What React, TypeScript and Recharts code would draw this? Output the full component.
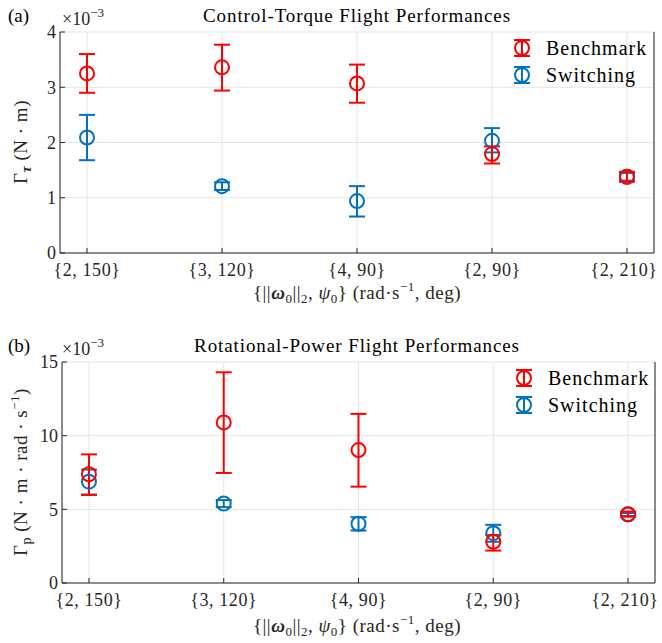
import React from "react";
import { ScatterChart, Scatter, XAxis, YAxis, CartesianGrid, ErrorBar } from "recharts";

// flight cases {||w0||_2, psi0}
const categories = ["{2, 150}", "{3, 120}", "{4, 90}", "{2, 90}", "{2, 210}"];
const caseIndex = [1, 2, 3, 4, 5];

// (a) control torque, in units of 1e-3 N·m
const torqueBenchMean = [3.25, 3.36, 3.07, 1.79, 1.38];
const torqueBenchLow = [2.9, 2.94, 2.72, 1.62, 1.29];
const torqueBenchHigh = [3.6, 3.77, 3.41, 1.93, 1.47];
const torqueSwitchMean = [2.09, 1.21, 0.94, 2.03, 1.38];
const torqueSwitchLow = [1.68, 1.14, 0.66, 1.82, 1.31];
const torqueSwitchHigh = [2.5, 1.28, 1.21, 2.26, 1.45];
const torqueTicks = [0, 1, 2, 3, 4];

// (b) rotational power, in units of 1e-3
const powerBenchMean = [7.38, 10.9, 9.02, 2.8, 4.67];
const powerBenchLow = [5.98, 7.47, 6.54, 2.2, 4.5];
const powerBenchHigh = [8.73, 14.3, 11.48, 3.25, 4.85];
const powerSwitchMean = [6.88, 5.39, 4.02, 3.38, 4.65];
const powerSwitchLow = [6.0, 5.15, 3.56, 2.8, 4.55];
const powerSwitchHigh = [7.7, 5.63, 4.47, 3.95, 4.75];
const powerTicks = [0, 5, 10, 15];

const RED = "#ff0000";
const BLUE = "#0072bd";
const AXIS = "#262626";
const GRID = "#e5e5e5";
const FONT = "'Liberation Serif', 'Times New Roman', serif";

function toRows(mean: number[], low: number[], high: number[]) {
  return caseIndex.map((x, i) => ({ x, y: mean[i], err: [mean[i] - low[i], high[i] - mean[i]] }));
}

const ring = (color: string) => (props: any) => (
  <circle cx={props.cx} cy={props.cy} r={7} fill="none" stroke={color} strokeWidth={2} />
);

// last label is nudged left a bit so it stays inside the figure
const CaseTick = (props: any) => {
  const { x, y, payload, index } = props;
  const last = index === caseIndex.length - 1;
  return (
    <text
      x={x}
      y={y}
      dx={last ? -3 : 0}
      dy={12}
      textAnchor="middle"
      fill={AXIS}
      fontSize={18}
      fontFamily={FONT}
      letterSpacing={0.6}
    >
      {categories[payload.value - 1]}
    </text>
  );
};

function Panel(props: {
  top: number;
  height: number;
  plotTop: number;
  plotBottom: number;
  leftW: number;
  rightW: number;
  yDomain: [number, number];
  yTicks: number[];
  bench: any[];
  sw: any[];
}) {
  const { top, height, plotTop, plotBottom, leftW, rightW, yDomain, yTicks, bench, sw } = props;
  const xAxisH = 30;
  return (
    <div style={{ position: "absolute", left: 0, top, width: 662, height }}>
      <ScatterChart
        width={662}
        height={height}
        margin={{ top: plotTop, right: 0, bottom: height - plotBottom - xAxisH, left: 0 }}
      >
        <CartesianGrid stroke={GRID} strokeWidth={1} />
        <XAxis
          type="number"
          dataKey="x"
          domain={[0.8, 5.2]}
          ticks={caseIndex}
          interval={0}
          height={xAxisH}
          tickSize={-5}
          tickMargin={16}
          stroke={AXIS}
          tick={<CaseTick />}
        />
        <XAxis
          xAxisId="top"
          orientation="top"
          type="number"
          domain={[0.8, 5.2]}
          ticks={caseIndex}
          interval={0}
          tickFormatter={() => ""}
          height={0}
          tickSize={-5}
          stroke={AXIS}
        />
        <YAxis
          type="number"
          dataKey="y"
          domain={yDomain}
          ticks={yTicks}
          interval={0}
          width={leftW}
          tickSize={-5}
          tickMargin={9}
          stroke={AXIS}
          tick={{ fill: AXIS, fontSize: 18, fontFamily: FONT }}
        />
        <YAxis
          yAxisId="r"
          orientation="right"
          type="number"
          domain={yDomain}
          ticks={yTicks}
          interval={0}
          width={rightW}
          tickSize={-5}
          tickFormatter={() => ""}
          stroke={AXIS}
        />
        <Scatter data={sw} fill={BLUE} shape={ring(BLUE)} isAnimationActive={false}>
          <ErrorBar dataKey="err" direction="y" width={8} stroke={BLUE} strokeWidth={2} />
        </Scatter>
        <Scatter data={bench} fill={RED} shape={ring(RED)} isAnimationActive={false}>
          <ErrorBar dataKey="err" direction="y" width={8} stroke={RED} strokeWidth={2} />
        </Scatter>
      </ScatterChart>
    </div>
  );
}

function LegendMark({ x, y, color }: { x: number; y: number; color: string }) {
  return (
    <g stroke={color} strokeWidth={2} fill="none">
      <line x1={x} y1={y - 8} x2={x} y2={y + 8} />
      <line x1={x - 8} y1={y - 8} x2={x + 8} y2={y - 8} />
      <line x1={x - 8} y1={y + 8} x2={x + 8} y2={y + 8} />
      <circle cx={x} cy={y} r={7} />
    </g>
  );
}

function Legend2({ x, y }: { x: number; y: number }) {
  return (
    <g>
      <LegendMark x={x} y={y} color={RED} />
      <LegendMark x={x} y={y + 27} color={BLUE} />
      <text x={x + 24} y={y + 7} fontSize={20} letterSpacing={1} fill="#000">Benchmark</text>
      <text x={x + 24} y={y + 34} fontSize={20} letterSpacing={1} fill="#000">Switching</text>
    </g>
  );
}

function Scale({ x, y }: { x: number; y: number }) {
  return (
    <text x={x} y={y} fontSize={18} fill={AXIS}>
      ×10<tspan fontSize={13} dy={-8}>−3</tspan>
    </text>
  );
}

function XLabel({ y }: { y: number }) {
  return (
    <text x={357} y={y} fontSize={19} textAnchor="middle" fill={AXIS} letterSpacing={0.5}>
      {"{||"}
      <tspan fontWeight="bold" fontStyle="italic">ω</tspan>
      <tspan fontSize={13} dy={4}>0</tspan>
      <tspan dy={-4}>||</tspan>
      <tspan fontSize={13} dy={4}>2</tspan>
      <tspan dy={-4}>, </tspan>
      <tspan fontStyle="italic">ψ</tspan>
      <tspan fontSize={13} dy={4}>0</tspan>
      <tspan dy={-4}>{"}  (rad·s"}</tspan>
      <tspan fontSize={13} dy={-8}>−1</tspan>
      <tspan dy={8}>, deg)</tspan>
    </text>
  );
}

export default function App() {
  return (
    <div style={{ position: "absolute", left: 0, top: 0, width: 662, height: 643, background: "#fff", fontFamily: FONT }}>
      <Panel
        top={0}
        height={300}
        plotTop={32}
        plotBottom={253}
        leftW={60}
        rightW={8}
        yDomain={[0, 4]}
        yTicks={torqueTicks}
        bench={toRows(torqueBenchMean, torqueBenchLow, torqueBenchHigh)}
        sw={toRows(torqueSwitchMean, torqueSwitchLow, torqueSwitchHigh)}
      />
      <Panel
        top={300}
        height={343}
        plotTop={62}
        plotBottom={283}
        leftW={62}
        rightW={7}
        yDomain={[0, 15]}
        yTicks={powerTicks}
        bench={toRows(powerBenchMean, powerBenchLow, powerBenchHigh)}
        sw={toRows(powerSwitchMean, powerSwitchLow, powerSwitchHigh)}
      />
      <svg
        width={662}
        height={643}
        style={{ position: "absolute", left: 0, top: 0, pointerEvents: "none" }}
        fontFamily={FONT}
      >
        {/* (a) */}
        <text x={8} y={22} fontSize={19} fill="#000">(a)</text>
        <Scale x={62} y={25} />
        <text x={357} y={22} fontSize={19} textAnchor="middle" letterSpacing={0.9} fill="#000">
          Control-Torque Flight Performances
        </text>
        <text transform="translate(27,142) rotate(-90)" fontSize={19} textAnchor="middle" fill={AXIS} letterSpacing={0.5}>
          Γ<tspan fontSize={14} dy={4} fontWeight="bold" fontStyle="italic">τ</tspan>
          <tspan dy={-4}>{"  (N · m)"}</tspan>
        </text>
        <XLabel y={299} />
        <Legend2 x={522} y={48} />

        {/* (b) */}
        <text x={8} y={352} fontSize={19} fill="#000">(b)</text>
        <Scale x={62} y={355} />
        <text x={357} y={352} fontSize={19} textAnchor="middle" letterSpacing={0.9} fill="#000">
          Rotational-Power Flight Performances
        </text>
        <text transform="translate(27,472) rotate(-90)" fontSize={19} textAnchor="middle" fill={AXIS} letterSpacing={0.5}>
          Γ<tspan fontSize={14} dy={4}>p</tspan>
          <tspan dy={-4}>{" (N · m · rad · s"}</tspan>
          <tspan fontSize={13} dy={-8}>−1</tspan>
          <tspan dy={8}>)</tspan>
        </text>
        <XLabel y={632} />
        <Legend2 x={524} y={378} />
      </svg>
    </div>
  );
}
